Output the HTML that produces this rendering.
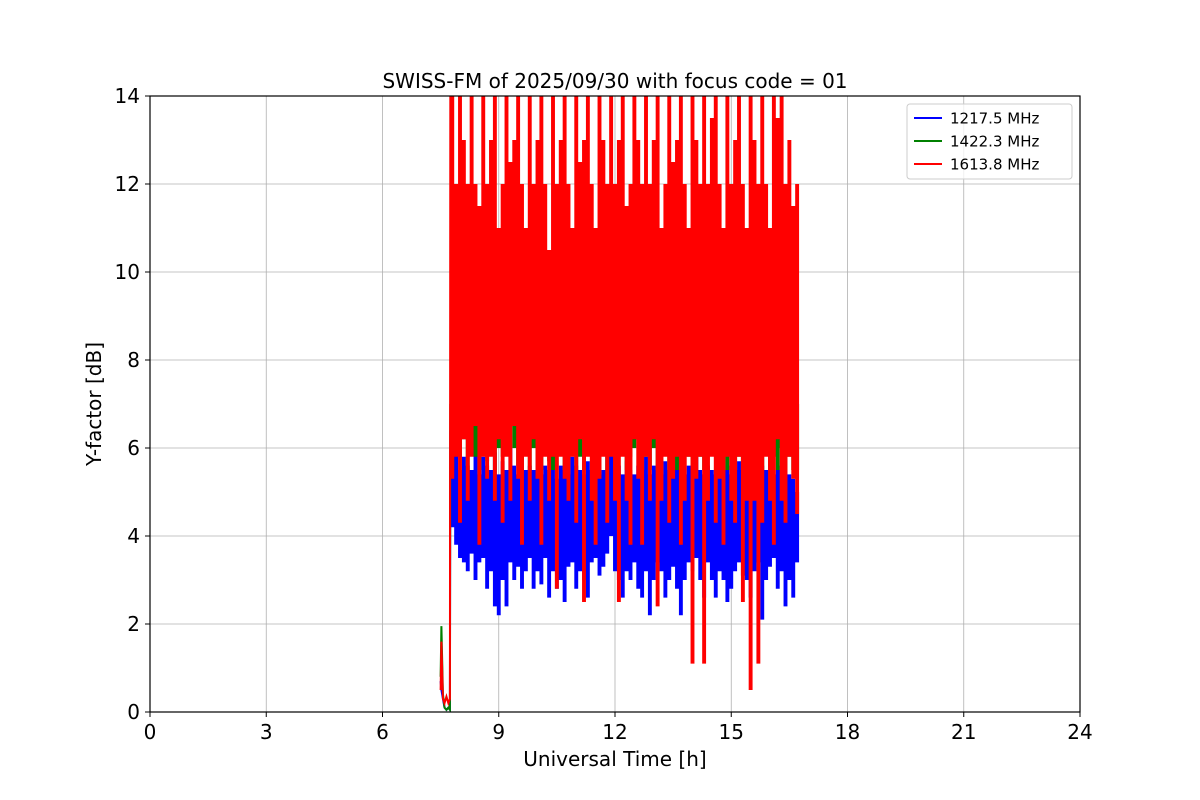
<!DOCTYPE html>
<html><head><meta charset="utf-8">
<style>
body{margin:0;background:#fff;}
svg{display:block;font-family:"DejaVu Sans","Liberation Sans",sans-serif;}
</style></head>
<body>
<svg id="chart" width="1200" height="800">
<rect width="1200" height="800" fill="#fff"/>
<g id="grid"></g>
<g id="series"></g>
<rect x="150" y="96" width="930" height="616" fill="none" stroke="#000" stroke-width="1.2"/>
<g id="axes"></g>
<text x="615" y="88" text-anchor="middle" font-size="20">SWISS-FM of 2025/09/30 with focus code = 01</text>
<text x="615" y="766" text-anchor="middle" font-size="20">Universal Time [h]</text>
<text transform="translate(101,404) rotate(-90)" text-anchor="middle" font-size="20">Y-factor [dB]</text>
<g>
<rect x="907" y="104" width="165" height="75" rx="3" fill="#fff" fill-opacity="0.8" stroke="#ccc"/>
<g><line x1="914" y1="118" x2="942" y2="118" stroke="#0000ff" stroke-width="2"/><text x="950" y="123.5" font-size="15">1217.5 MHz</text></g>
<g><line x1="914" y1="141" x2="942" y2="141" stroke="#008000" stroke-width="2"/><text x="950" y="146.5" font-size="15">1422.3 MHz</text></g>
<g><line x1="914" y1="164" x2="942" y2="164" stroke="#ff0000" stroke-width="2"/><text x="950" y="169.5" font-size="15">1613.8 MHz</text></g>
</g>
</svg>
<script>
const xTicks=[0,3,6,9,12,15,18,21,24];
const yTicks=[0,2,4,6,8,10,12,14];
const tStart=7.75, tStep=0.1;
const redHi=[14,12,14,13,12,14,12,11.5,14,12,13,14,11,12,14,12.5,13,14,12,11,14,12,13,14,12,10.5,14,12,13,14,12,11,14,12.5,13,14,12,11,14,13,12,14,12,13,14,11.5,12,14,13,12,14,12,13,14,11,12,14,12.5,13,14,12,11,14,13,12,14,12,13.5,14,12,11,14,12,13,14,12,11,14,13,12,14,12,11,14,13.5,14,12,13,11.5,12];
const redLo=[5.3,5.8,4.3,6.2,4.8,5.8,6.5,3.8,5.8,5.3,5.8,4.8,6.2,4.3,5.8,4.8,6.5,5.3,3.8,5.8,4.8,6.2,5.3,3.8,5.8,4.8,5.8,2.8,5.8,5.3,4.8,5.8,4.3,6.2,2.5,5.8,4.8,3.8,5.3,5.8,4.3,5.8,4.8,2.5,5.8,4.8,3.8,6.2,5.3,3.8,5.8,4.8,6.2,2.4,4.8,5.8,4.3,5.3,5.8,3.8,4.8,5.8,1.1,5.3,5.8,1.1,4.8,5.8,4.3,5.3,3.8,5.8,4.8,4.3,5.8,2.5,4.8,0.5,4.8,1.1,4.3,5.8,4.8,3.8,6.2,4.8,4.3,5.8,5.3,4.5];
const greenHi=[7,7.5,7,8.2,7,7.5,7.2,6.8,7.5,7.8,7,7.5,7.3,8,7.2,9.4,8,7.5,7,7.2,7,7.5,7.2,7,7.8,7.5,7,8.5,7.5,7,7.2,7.5,7,7.4,7,7.8,8,7.2,7,7.5,7,8.6,7,7.2,7.5,7,7.3,7.5,7.8,7,7.2,7,7.5,7,7.2,7.5,7,7.4,7,7.6,8,7.2,7,7.5,7.2,7,7.5,9,9.9,8,7.2,7,7.5,7,7.3,7,7.2,7.5,7,7.1,7,7.5,7,7.2,7,7.5,7,7.2,7,7];
const greenLo=[5.5,6,5.8,6.2,5.5,6,5.8,5.5,6,5.7,6,5.5,6,5.8,6,6.5,6,5.6,5.5,6,5.5,6,5.8,5.5,6,5.7,5.5,6.5,6,5.5,5.8,6,5.5,5.8,5.5,6,6.2,5.8,5.5,6,5.5,6.5,5.5,5.8,6,5.5,5.8,6,6.2,5.5,5.8,5.5,6,5.5,5.8,6,5.5,6,5.5,6,6.5,5.8,5.5,6,5.8,5.5,6,7,7.5,6.5,5.8,5.5,6,5.5,5.8,5.5,5.8,6,5.5,5.7,5.5,6,5.5,5.8,5.5,6,5.5,5.8,5.5,5.5];
const blueHi=[6.4,6,5.5,5.8,5.6,5.5,6,5.4,5.8,5.6,5.5,5.9,5.4,5.7,5.5,6,5.6,5.4,5.8,5.5,5.6,5.5,5.8,5.4,5.6,5.5,5.8,5.3,5.6,5.5,5.4,5.8,5.6,5.5,5.4,5.7,5.5,5.6,5.4,5.5,5.8,6.8,5.5,5.6,5.4,5.7,5.5,5.4,5.6,5.5,5.8,5.4,5.6,5.5,5.4,5.7,5.5,5.6,6,5.5,5.4,5.6,5.5,5.8,5.5,5.4,5.6,5.5,5.4,5.7,5.5,5.6,5.4,5.5,5.7,5.5,5.4,5.6,5.5,5.4,5.6,5.5,5.7,5.4,5.5,5.6,5.5,5.4,5.3,5];
const blueLo=[4.2,3.8,3.5,3.4,3.2,3.6,3,3.4,3.5,2.8,3.2,2.4,2.2,3,2.4,3.4,3,3.3,2.8,3.2,3.5,2.8,3.2,2.9,3.5,2.6,3.2,2.8,3,2.5,3.3,3.4,2.8,3.2,3,2.6,3.4,3.5,3.1,3.3,3.6,4,3.2,3,2.6,3.2,3,3.4,2.8,2.6,3.2,2.2,3,3.4,3.2,2.6,3,3.3,2.8,2.2,3,3.4,3.2,3.5,3,2.6,3.4,3,2.6,3.2,3,2.5,2.8,3.2,3.4,3.1,3,2.6,3.2,3.4,2.1,3,3.3,3.5,2.8,3.2,2.4,3,2.6,3.4];
const preTimes=[7.5,7.52,7.56,7.6,7.65,7.7,7.74];
const preGreen=[0.8,1.95,0.4,0.1,0.05,0.1,0.05];
const preRed=[0.5,1.6,0.3,0.2,0.35,0.2,0.3];
const preBlue=[0.7,0.5,0.3,0.1,0.05,0.1,0.05];

const X=t=>150+t*(930/24);
const Y=v=>712-v*(616/14);
const NS='http://www.w3.org/2000/svg';
const grid=document.getElementById('grid'),axes=document.getElementById('axes'),ser=document.getElementById('series');
function mk(tag,attrs,parent){const e=document.createElementNS(NS,tag);for(const k in attrs)e.setAttribute(k,attrs[k]);parent.appendChild(e);return e;}
xTicks.forEach(t=>{
 const g=mk('line',{x1:X(t),x2:X(t),y1:96,y2:712,stroke:'#b0b0b0','stroke-width':0.8},grid);
 
 
 mk('line',{x1:X(t),x2:X(t),y1:712,y2:717,stroke:'#000','stroke-width':1},axes);
 const tx=mk('text',{x:X(t),y:739,'text-anchor':'middle','font-size':20},axes);
 tx.textContent=t;
 
 
});
yTicks.forEach(v=>{
 const g=mk('line',{x1:150,x2:1080,y1:Y(v),y2:Y(v),stroke:'#b0b0b0','stroke-width':0.8},grid);
 
 
 mk('line',{x1:145,x2:150,y1:Y(v),y2:Y(v),stroke:'#000','stroke-width':1},axes);
 const tx=mk('text',{x:140,y:Y(v)+7,'text-anchor':'end','font-size':20},axes);
 tx.textContent=v;
 
 
});
const defs=mk('defs',{},document.getElementById('chart'));
const cp=mk('clipPath',{id:'clip'},defs);mk('rect',{x:150,y:96,width:930,height:616},cp);
ser.setAttribute('clip-path','url(#clip)');
function series(pre,hi,lo,color,name){
 const g=mk('g',{},ser);
 
 
 const pts=pre.map((v,i)=>[X(preTimes[i]),Y(v)]);
 pts.push([X(tStart),Y(hi[0])]);
 const p=mk('polyline',{points:pts.map(p=>p.join(',')).join(' '),fill:'none',stroke:color,'stroke-width':2},g);
 
 
 let d='';
 hi.forEach((h,i)=>{
  const x=X(tStart+i*tStep+tStep/2);
  d+='M'+x+','+Y(Math.min(h,14.3))+'V'+Y(lo[i]);
 });
 const b=mk('path',{d:d,fill:'none',stroke:color,'stroke-width':3.9},g);
 
 
}
series(preBlue,blueHi,blueLo,'#0000ff','series-1217-mhz');
series(preGreen,greenHi,greenLo,'#008000','series-1422-mhz');
series(preRed,redHi,redLo,'#ff0000','series-1613-mhz');
</script>
</body></html>
